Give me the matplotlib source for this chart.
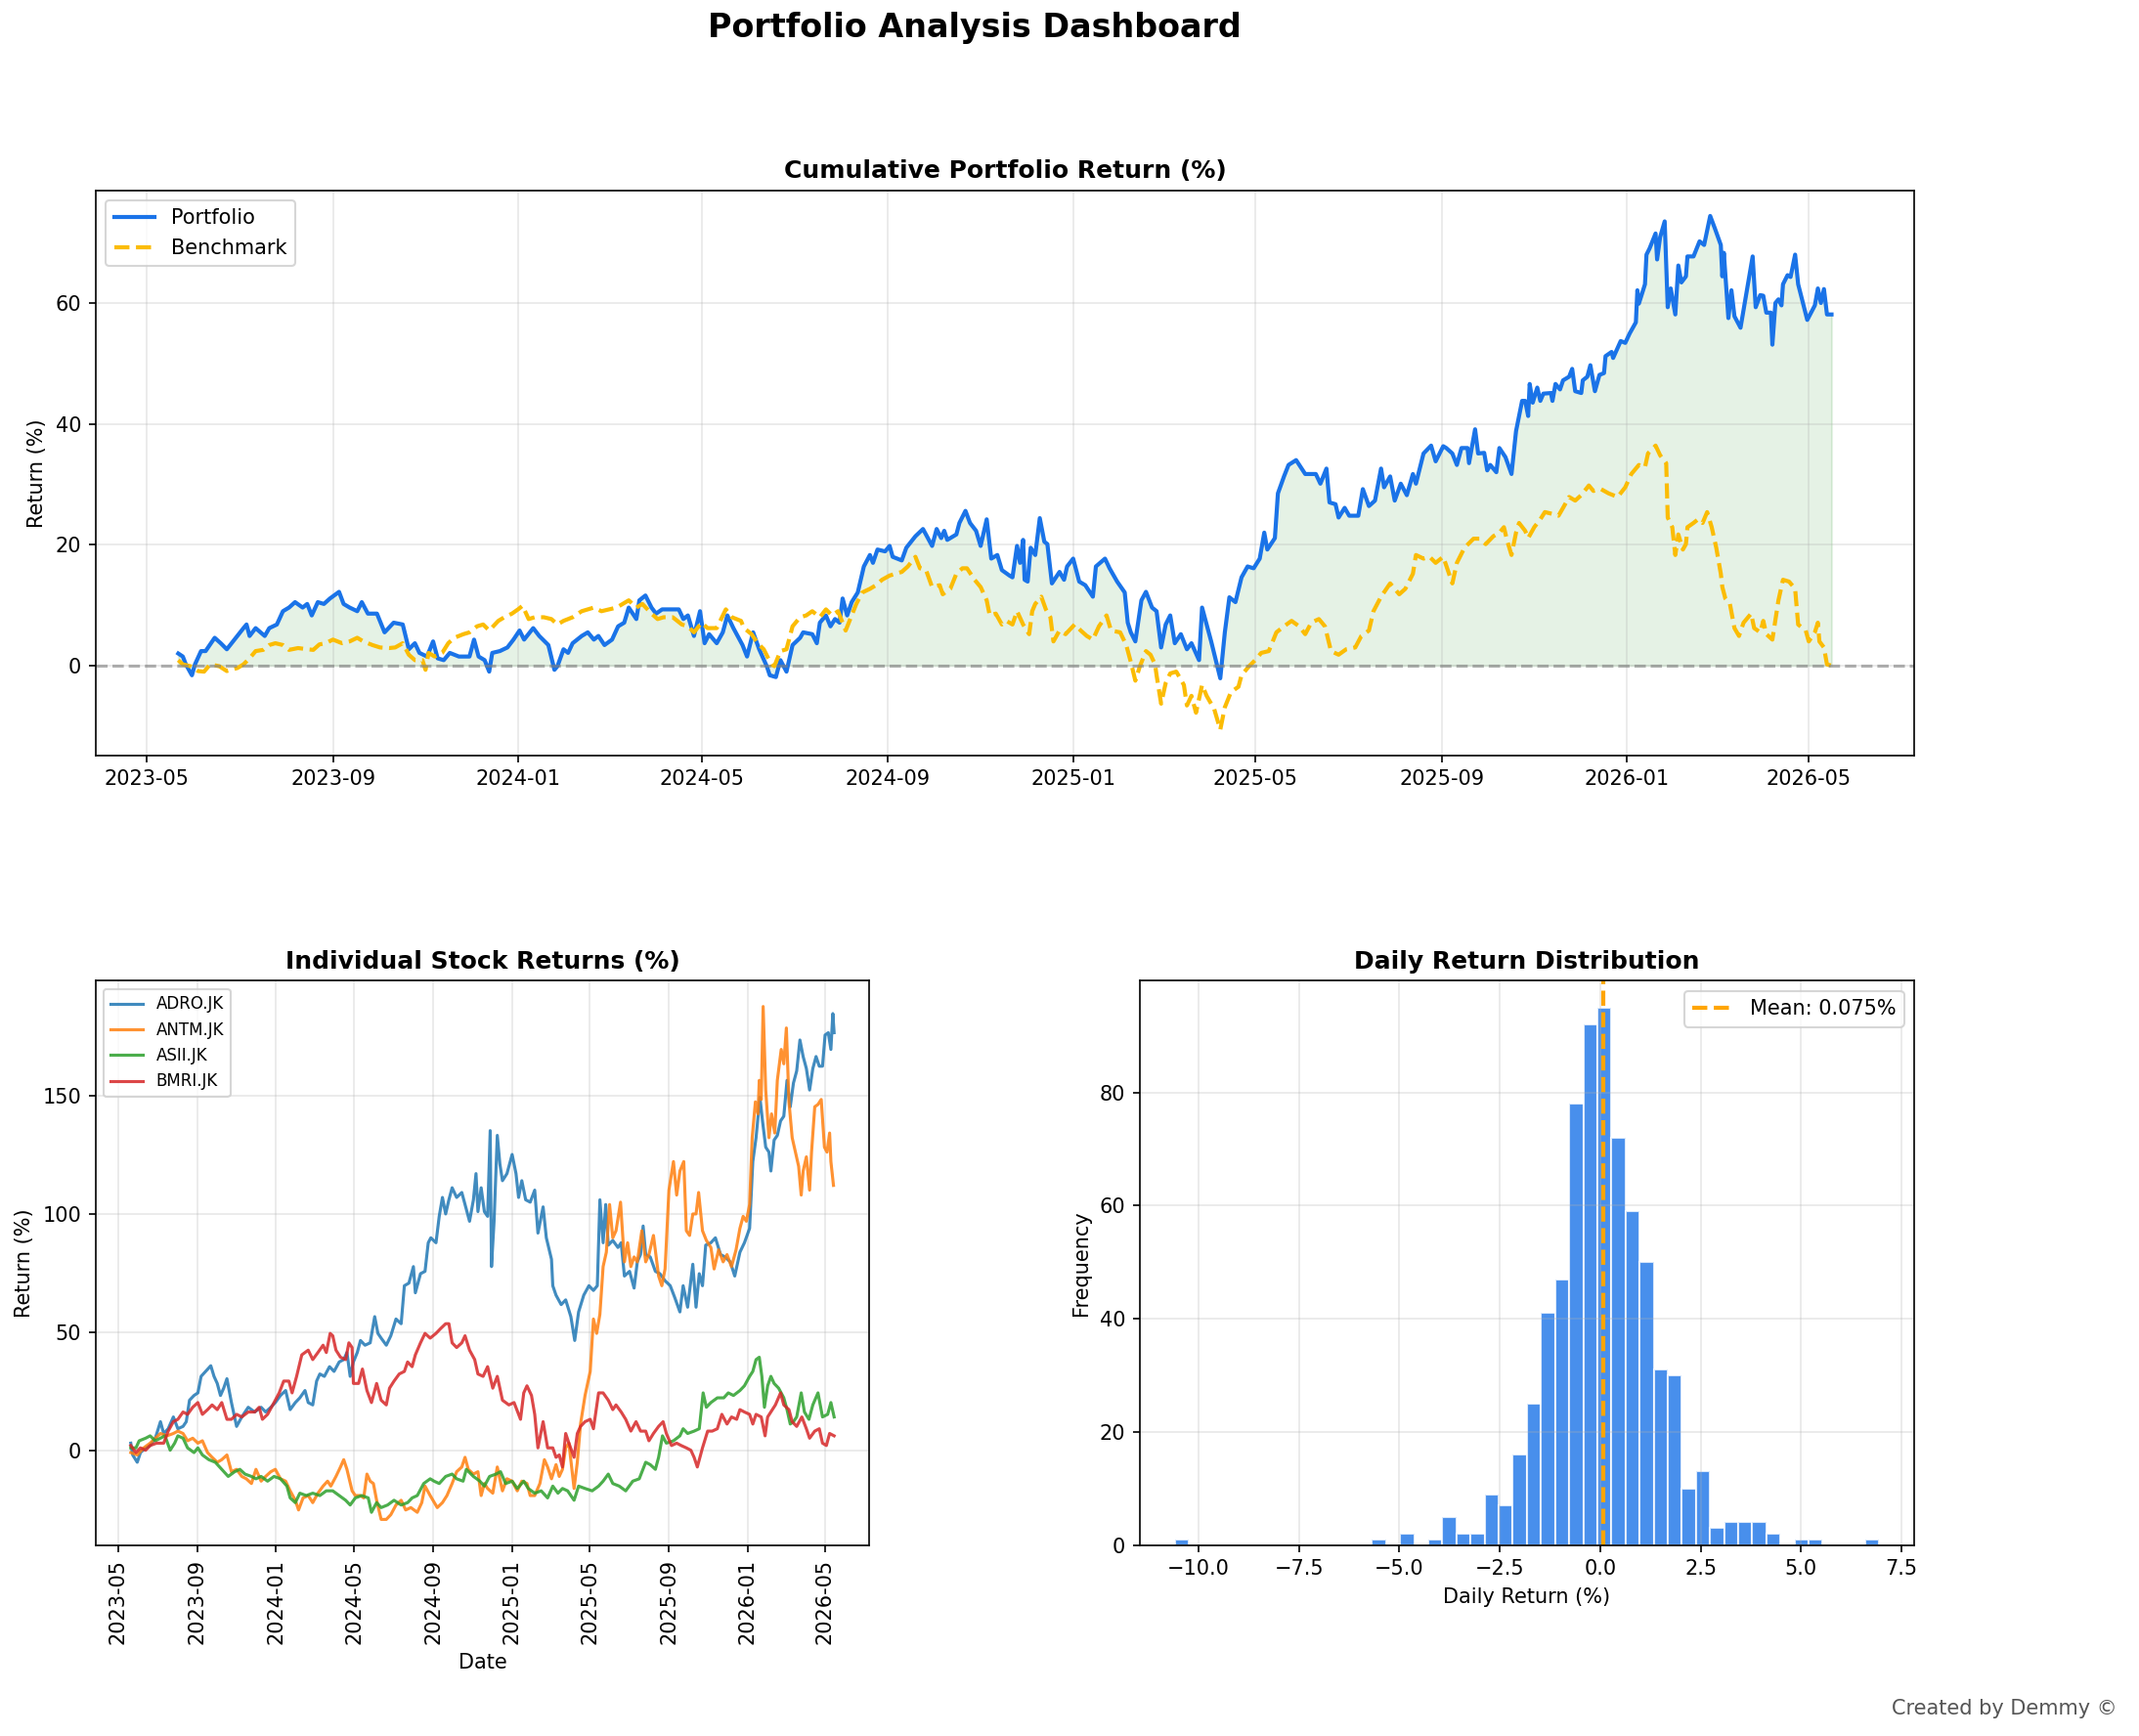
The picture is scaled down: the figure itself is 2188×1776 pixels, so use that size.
import numpy as np
import matplotlib
matplotlib.use('Agg')
import matplotlib.pyplot as plt
import matplotlib.dates as mdates

# day offsets are counted from this date
start_date = np.datetime64('2023-05-01')

# cumulative portfolio return (%)
port_day = [21, 24, 26, 30, 32, 36, 39, 45, 49, 53,
            58, 64, 66, 68, 72, 78, 81, 86, 90, 94,
            98, 103, 106, 109, 113, 117, 121, 127, 130, 134,
            139, 142, 146, 152, 157, 163, 169, 173, 177, 180,
            185, 189, 192, 196, 200, 206, 213, 216, 219, 223,
            226, 228, 233, 238, 242, 246, 249, 255, 259, 265,
            269, 271, 275, 278, 281, 287, 291, 295, 298, 302,
            307, 311, 315, 318, 323, 325, 329, 333, 336, 340,
            351, 354, 357, 361, 365, 368, 371, 376, 380, 383,
            387, 393, 396, 400, 404, 409, 411,
            415, 418, 422, 426, 431, 433, 439, 442, 444, 448,
            451, 454, 457, 459, 462, 465, 469, 473, 477, 479,
            482, 487, 490, 492, 498, 501, 507, 512, 518, 521,
            524, 526, 528, 534, 536, 540, 543, 547, 550, 554,
            557, 561, 564, 569, 571, 574, 576, 578, 579, 581,
            583, 586, 589, 592, 594, 597, 602, 605, 607, 611,
            615, 619, 624, 626, 632, 635, 640, 645, 647, 649,
            652, 656, 659, 663, 666, 669, 672, 675, 678, 682,
            686, 689, 694, 696, 702, 708, 711, 714, 718, 722,
            726, 730, 734, 737, 739, 744, 746, 750, 753, 758,
            764, 771, 774, 778, 780, 784, 786, 790, 793, 799,
            802, 806, 810, 814, 816, 820, 823, 827, 831, 835,
            837, 842, 847, 850, 855,
            857, 861, 864, 867, 871, 872, 876, 878, 882, 884,
            886, 890, 892, 896, 900, 903, 907, 909, 911, 912,
            914, 917, 919, 921, 926, 927, 929, 932, 934, 938,
            940, 942, 946, 947, 950, 952, 955, 958, 961, 962,
            966, 967, 972, 975, 978, 982, 983, 984, 988, 989,
            991, 995, 996, 998, 1001, 1003, 1005, 1008, 1010, 1012,
            1015, 1016, 1020, 1024, 1027, 1031, 1034, 1038, 1039, 1040,
            1043, 1045, 1047, 1051, 1059, 1061, 1064, 1066, 1068, 1071,
            1072, 1074, 1076, 1078, 1079, 1082, 1084, 1087, 1089, 1095,
            1100, 1102, 1104, 1106, 1108, 1111]
port_ret = [2.0, 1.5, 0.2, -1.6, 0.2, 2.4, 2.4, 4.6, 3.7, 2.7,
            4.3, 6.2, 6.8, 4.9, 6.2, 4.9, 6.2, 6.8, 9.0, 9.6,
            10.5, 9.6, 10.2, 8.3, 10.5, 10.2, 11.1, 12.2, 10.2, 9.6,
            9.0, 10.5, 8.6, 8.6, 5.5, 7.1, 6.8, 2.7, 3.7, 2.1,
            1.5, 4.0, 1.2, 0.9, 2.1, 1.5, 1.5, 4.3, 1.5, 0.9,
            -1.0, 2.1, 2.4, 3.0, 4.3, 5.8, 4.3, 6.2, 4.9, 3.4,
            -0.7, -0.1, 2.7, 2.1, 3.7, 4.9, 5.5, 4.3, 4.9, 3.4,
            4.3, 6.5, 7.1, 9.6, 7.7, 10.8, 11.6, 9.6, 8.6, 9.3,
            9.3, 7.7, 8.3, 4.9, 9.0, 3.7, 5.2, 3.7, 5.5, 8.3,
            6.2, 3.4, 1.5, 5.5, 2.7, -0.1, -1.6,
            -1.9, 0.9, -1.0, 3.4, 4.6, 5.5, 5.2, 3.7, 7.1, 8.3,
            6.5, 7.7, 7.1, 11.1, 8.3, 10.5, 12.1, 16.4, 18.3, 17.0,
            19.2, 18.9, 19.8, 18.0, 17.4, 19.5, 21.4, 22.6, 19.8, 22.6,
            21.1, 22.3, 20.8, 21.7, 23.6, 25.6, 23.6, 22.3, 19.8, 24.2,
            17.7, 18.3, 15.8, 14.9, 14.6, 19.8, 17.0, 20.8, 14.2, 13.9,
            19.5, 18.3, 24.4, 20.5, 20.1, 13.6, 15.5, 14.2, 16.4, 17.7,
            13.9, 13.3, 11.4, 16.4, 17.7, 16.1, 13.9, 12.1, 7.1, 5.5,
            4.0, 10.8, 12.2, 9.6, 9.0, 3.0, 6.8, 8.3, 3.7, 5.2,
            2.7, 3.7, 0.9, 9.6, 4.0, -2.1, 5.5, 11.3, 10.5, 14.6,
            16.4, 16.1, 17.7, 22.0, 19.2, 21.1, 28.5, 31.3, 33.2, 34.0,
            31.7, 31.7, 30.1, 32.6, 27.0, 26.7, 24.5, 26.1, 24.8, 24.8,
            29.2, 26.4, 27.3, 32.6, 29.5, 31.3, 27.3, 30.1, 28.2, 31.7,
            30.1, 35.1, 36.4, 33.8, 36.3,
            36.0, 35.1, 33.2, 36.0, 36.0, 33.5, 39.1, 35.1, 35.2, 32.3,
            33.2, 32.0, 36.0, 34.5, 31.7, 38.8, 43.8, 43.8, 41.3, 46.6,
            43.5, 46.0, 43.8, 45.0, 45.1, 43.8, 46.6, 45.7, 47.2, 47.8,
            49.1, 45.4, 45.1, 47.2, 47.8, 49.7, 45.4, 48.1, 48.4, 51.2,
            51.9, 50.9, 53.7, 53.4, 55.0, 56.8, 62.1, 59.9, 63.1, 68.0,
            69.0, 71.5, 67.2, 70.9, 73.5, 59.3, 62.4, 58.1, 66.2, 63.4,
            64.4, 67.7, 67.7, 70.2, 69.6, 74.4, 72.4, 69.6, 64.4, 68.3,
            57.5, 62.1, 57.8, 55.9, 67.7, 59.3, 61.3, 61.2, 58.4, 58.4,
            53.1, 60.0, 60.6, 59.6, 63.1, 64.6, 64.3, 68.0, 63.1, 57.2,
            59.6, 62.4, 60.0, 62.3, 58.1, 58.1]

# cumulative benchmark return (%)
bench_day = [21, 24, 29, 34, 38, 42, 48, 53, 60, 64,
             68, 72, 77, 81, 85, 90, 94, 100, 106, 110,
             114, 118, 123, 129, 134, 139, 143, 149, 154, 160,
             164, 169, 173, 177, 182, 184, 186, 190, 195, 199,
             203, 209, 213, 218, 222, 226, 232, 236, 241, 245,
             248, 252, 256, 262, 267, 271, 275, 281, 287, 291,
             295, 300, 305, 310, 314, 318, 323, 327, 333, 337,
             341, 347, 353, 357, 361, 366, 370, 376, 382, 386,
             392, 394, 399, 403, 407, 412,
             414, 418, 422, 426, 431, 435, 439, 444, 448, 452,
             456, 461, 464, 468, 472, 477, 481, 485, 490, 494,
             498, 502, 507, 510, 514, 518, 523, 525, 530, 534,
             538, 541, 546, 550, 554, 556, 560, 564, 567, 571,
             574, 578, 582, 584, 586, 590, 593, 596, 598, 602,
             606, 612, 616, 620, 624, 628, 633, 636, 642, 646,
             649, 652, 655, 659, 662, 665, 666, 669, 672, 675,
             679, 684, 686, 689, 692, 696, 699, 704, 708, 711,
             715, 720, 722, 727, 731, 735, 740, 745, 750, 755,
             760, 764, 768, 773, 777, 781, 786, 791, 797, 801,
             806, 809, 814, 820, 826, 830, 835, 837, 842, 846,
             850, 855,
             861, 864, 869, 875, 879, 883, 888, 892, 895, 897,
             900, 903, 905, 909, 911, 915, 919, 922, 927, 931,
             934, 938, 942, 946, 951, 954, 959, 964, 970, 975,
             979, 984, 988, 990, 995, 998, 1002, 1003, 1006, 1008,
             1010, 1013, 1015, 1016, 1020, 1023, 1026, 1029, 1032, 1035,
             1038, 1039, 1041, 1044, 1047, 1050, 1053, 1058, 1060, 1064,
             1066, 1068, 1072, 1076, 1079, 1083, 1087, 1089, 1094, 1096,
             1100, 1102, 1103, 1106, 1108, 1111]
bench_ret = [0.9, 0.2, -0.1, -0.9, -1.0, 0.2, -0.1, -0.9, -0.4, 0.2,
             1.2, 2.4, 2.6, 3.4, 3.7, 3.4, 2.6, 2.9, 2.7, 2.6,
             3.5, 3.7, 4.3, 3.7, 4.0, 4.6, 4.0, 3.4, 3.0, 2.9,
             3.0, 3.7, 1.8, 0.9, 0.9, -0.7, 2.1, 1.5, 2.1, 3.7,
             4.6, 5.2, 5.5, 6.5, 6.8, 5.8, 7.4, 8.0, 8.6, 9.3,
             9.9, 7.7, 8.0, 8.0, 7.7, 6.8, 7.4, 8.0, 9.0, 9.3,
             9.6, 9.0, 9.3, 9.6, 10.2, 10.8, 9.6, 10.2, 8.6, 7.7,
             8.0, 8.0, 6.8, 6.5, 5.5, 7.1, 6.2, 6.2, 9.3, 8.0,
             7.4, 6.2, 5.2, 3.7, 2.7, 0.2,
             -0.1, 2.4, 2.7, 6.5, 8.0, 8.3, 9.0, 8.0, 9.3, 8.3,
             9.0, 5.8, 7.7, 10.2, 12.1, 12.7, 13.3, 14.2, 14.9, 15.2,
             15.5, 16.4, 18.0, 16.1, 15.8, 13.0, 13.3, 11.8, 12.7, 15.2,
             16.1, 16.1, 14.2, 13.0, 10.8, 8.3, 8.6, 6.8, 7.4, 6.8,
             9.0, 6.8, 5.2, 9.0, 10.2, 11.4, 9.3, 8.0, 4.0, 5.8,
             5.2, 6.8, 5.8, 4.9, 4.3, 6.5, 8.3, 5.8, 5.5, 3.4,
             0.6, -2.5, -0.1, 2.4, 1.8, 0.2, -1.6, -6.3, -2.9, -1.3,
             -1.0, -3.2, -6.6, -5.0, -7.8, -3.2, -5.0, -7.2, -10.6, -6.9,
             -4.4, -3.5, -1.6, -0.1, 0.9, 2.1, 2.4, 5.5, 6.5, 7.4,
             6.5, 5.2, 7.1, 7.7, 6.5, 2.4, 1.8, 2.7, 3.0, 4.9,
             5.8, 9.0, 11.4, 13.6, 11.8, 12.7, 15.2, 18.3, 17.7, 18.0,
             17.0, 18.0,
             13.6, 17.0, 19.5, 21.0, 21.0, 20.1, 21.4, 22.0, 22.9, 20.8,
             18.3, 22.0, 23.6, 22.3, 21.1, 22.9, 24.2, 25.4, 25.1, 24.8,
             26.1, 27.9, 27.3, 28.2, 29.8, 28.9, 29.2, 28.5, 27.9, 29.5,
             31.7, 33.2, 32.8, 35.1, 36.4, 34.8, 33.5, 24.5, 22.9, 18.3,
             21.7, 19.2, 20.1, 22.9, 23.6, 24.2, 23.6, 25.4, 22.9, 19.5,
             15.2, 13.0, 11.1, 10.2, 6.2, 4.9, 7.1, 8.6, 6.2, 5.5,
             7.4, 5.2, 4.3, 10.8, 14.2, 13.9, 12.7, 6.8, 5.8, 4.0,
             5.5, 7.1, 4.0, 3.0, 0.2, 0.0]

# individual stock returns (%)
adro_day = [20, 23, 30, 35, 43, 50, 58, 66, 71, 78,
            86, 93, 101, 106, 111, 118, 124, 129, 136, 144,
            149, 154, 159, 164, 169, 176, 184, 192, 202, 212,
            222, 229, 237, 244, 252, 260, 267, 275, 282, 290,
            295, 302, 308, 313, 320, 328, 335, 343, 350, 355,
            360, 365, 371, 376, 383, 391, 398, 403, 408, 416,
            423, 431, 439, 444, 451, 458, 461, 469, 476, 481,
            485, 493, 498, 503, 508, 513, 518, 525, 533, 538,
            545, 551, 555, 558, 563, 568, 573, 577, 579, 583,
            588, 592, 596, 603, 611, 617, 621, 626, 632, 639,
            646, 651, 659, 664, 672, 674, 679, 687, 694, 702,
            708, 714, 722, 730, 737, 743, 747, 752, 756, 760,
            767, 775, 780, 785, 793, 800, 805, 810, 814, 818,
            825, 833, 840, 848, 856, 863, 871, 876, 883, 891,
            896, 901, 906, 911, 919, 926, 934, 941, 949, 956,
            964, 971, 979, 984, 989, 995, 999, 1004, 1009, 1012,
            1017, 1022, 1027, 1032, 1037, 1042, 1047, 1052, 1057, 1062,
            1067, 1072, 1077, 1082, 1087, 1092, 1096, 1101, 1105, 1108,
            1110]
adro_ret = [3.0, -2.0, -5.1, -1.0, 1.0, 2.0, 5.1, 12.1, 7.1, 9.1,
            14.1, 9.1, 10.1, 12.1, 21.2, 23.2, 24.3, 31.3, 33.4, 35.8,
            31.3, 28.3, 23.2, 26.3, 30.3, 20.2, 10.1, 14.1, 18.2, 16.2,
            18.2, 16.2, 18.2, 20.2, 23.2, 25.3, 17.2, 20.2, 22.2, 25.3,
            20.2, 19.2, 29.3, 32.3, 31.3, 35.4, 33.4, 37.4, 38.4, 41.4,
            31.3, 37.4, 41.4, 46.5, 44.5, 45.5, 56.6, 49.5, 47.5, 44.5,
            48.5, 55.6, 53.6, 69.7, 70.8, 77.8, 66.7, 74.8, 75.8, 87.9,
            90.0, 87.9, 99.1, 107.1, 100.1, 106.1, 111.2, 107.1, 109.2, 104.1,
            97.0, 106.1, 117.2, 101.1, 111.2, 101.1, 99.1, 135.4, 77.8, 97.0,
            133.4, 121.3, 114.2, 117.2, 125.3, 117.2, 107.1, 114.2, 106.1, 105.1,
            110.2, 92.0, 103.1, 90.0, 80.9, 69.7, 65.7, 61.7, 63.7, 56.6,
            46.5, 58.6, 65.7, 69.7, 67.7, 69.7, 106.1, 87.9, 104.1, 86.9,
            88.9, 85.9, 87.9, 73.8, 75.8, 68.7, 79.8, 82.9, 95.0, 82.9,
            81.9, 75.8, 74.8, 71.8, 69.7, 64.7, 58.6, 69.7, 60.6, 78.8,
            60.6, 74.8, 69.7, 86.9, 87.9, 90.0, 82.9, 81.9, 79.8, 73.8,
            83.9, 87.9, 94.0, 122.3, 132.4, 149.6, 139.5, 128.4, 126.3, 118.3,
            131.4, 133.4, 139.5, 141.5, 156.7, 145.5, 155.6, 160.7, 173.8, 166.8,
            161.7, 152.6, 161.7, 166.8, 162.7, 162.7, 175.9, 176.9, 169.8, 185.0,
            176.9]

antm_day = [20, 30, 40, 50, 66, 76, 86, 93, 101, 108,
            116, 124, 131, 139, 146, 154, 161, 169, 176, 184,
            192, 199, 207, 214, 222, 229, 237, 244, 252, 260,
            267, 275, 280, 287, 295, 302, 310, 318, 325, 330,
            338, 345, 350, 355, 363, 368, 376, 381, 386, 391,
            396, 401, 408, 416, 423, 431, 439, 446, 454, 464,
            471, 476, 484,
            495, 503, 510, 518, 525, 533, 538, 543, 551, 558,
            563, 568, 573, 581, 588, 596, 603, 611, 619, 626,
            634, 639, 646, 654, 661, 666, 672, 679, 684, 689,
            694, 699, 707, 712, 717, 724, 732, 737, 742, 747,
            752, 757, 762, 767, 772, 779, 785, 790, 795, 800,
            805, 812, 818, 823, 830, 838, 843, 848, 854, 861,
            866, 871, 877, 881, 886, 891, 896, 900, 906, 912,
            919, 924, 931, 938, 944, 951, 958, 964, 969, 974,
            979, 983, 988, 992, 994, 997, 1000, 1004, 1009, 1013,
            1018, 1022, 1028, 1032, 1036, 1040, 1045, 1050, 1055, 1059,
            1062, 1067, 1072, 1075, 1080, 1085, 1090, 1095, 1099, 1103,
            1105, 1109]
antm_ret = [-1.0, -2.0, 1.0, 3.0, 7.1, 6.1, 7.1, 8.1, 7.1, 4.0,
            5.1, 3.0, 4.0, -1.0, -3.0, -5.1, -4.0, -2.0, -9.1, -8.1,
            -11.1, -12.1, -14.1, -8.1, -13.1, -11.1, -9.1, -8.1, -12.1, -13.1,
            -17.2, -21.2, -25.3, -20.2, -19.2, -22.2, -18.2, -15.2, -13.1, -15.2,
            -11.1, -7.1, -4.0, -8.1, -17.2, -19.2, -19.2, -20.2, -10.1, -13.1,
            -14.1, -21.2, -29.3, -29.3, -27.3, -23.2, -21.2, -25.3, -24.3, -26.3,
            -22.2, -15.2, -19.2,
            -24.3, -22.2, -19.2, -14.1, -9.1, -7.1, -3.0, -8.1, -10.1, -9.1,
            -19.2, -14.1, -16.2, -18.2, -7.1, -17.2, -12.1, -13.1, -17.2, -13.1,
            -14.1, -19.2, -19.2, -14.1, -4.0, -7.1, -12.1, -6.1, -11.1, -8.1,
            1.0, 3.0, -16.2, -5.1, 11.1, 23.2, 33.4, 55.6, 49.5, 57.6,
            77.8, 83.9, 104.1, 90.0, 93.0, 105.1, 79.8, 87.9, 77.8, 81.9,
            79.8, 93.0, 79.8, 82.9, 91.0, 73.8, 69.7, 76.8, 110.2, 122.3,
            108.1, 118.3, 122.3, 93.0, 91.0, 100.1, 100.1, 109.2, 93.0, 88.9,
            85.9, 76.8, 84.9, 79.8, 82.9, 77.8, 84.9, 94.0, 99.1, 97.0,
            104.1, 132.4, 147.6, 142.5, 156.7, 148.6, 188.0, 152.6, 132.4, 142.5,
            134.4, 156.7, 169.8, 163.7, 178.9, 147.6, 132.4, 126.3, 120.3, 108.1,
            118.3, 124.3, 110.2, 126.3, 145.5, 146.5, 148.6, 128.4, 126.3, 134.4,
            122.3, 112.2]

asii_day = [20, 28, 33, 43, 50, 58, 66, 73, 81, 88,
            93, 101, 108, 118, 124, 131, 141, 151, 161, 171,
            181, 189, 197, 207, 214, 222, 232, 242, 252, 262,
            267, 275, 282, 292, 302, 313, 323, 333, 343, 353,
            360, 368, 378, 388, 393, 401, 408, 418, 428, 439,
            449, 456, 464, 474, 484,
            490, 498, 508, 518, 525, 535, 540, 551, 561, 568,
            576, 586, 593, 601, 611, 619, 629, 636, 646, 656,
            666, 674, 682, 689, 697, 707, 714, 724, 735, 745,
            752, 760, 767, 777, 787, 798, 808, 818, 825, 833,
            838, 844, 850, 861, 871, 876, 883, 893, 901, 907,
            912, 919, 929, 939, 946, 954, 964, 971, 979, 984,
            989, 994, 998, 1002, 1007, 1012, 1017, 1024, 1032, 1037,
            1042, 1047, 1052, 1059, 1064, 1071, 1077, 1085, 1092, 1100,
            1105, 1110]
asii_ret = [1.0, 1.0, 4.0, 5.1, 6.1, 4.0, 5.1, 6.1, 0.0, 3.0,
            6.1, 5.1, 1.0, -1.0, 1.0, -2.0, -4.0, -5.1, -8.1, -11.1,
            -9.1, -8.1, -10.1, -11.1, -12.1, -11.1, -13.1, -11.1, -12.1, -15.2,
            -20.2, -22.2, -18.2, -19.2, -18.2, -19.2, -17.2, -17.2, -19.2, -21.2,
            -23.2, -20.2, -19.2, -20.2, -26.3, -22.2, -24.3, -23.2, -21.2, -23.2,
            -22.2, -20.2, -19.2, -14.1, -12.1,
            -13.1, -14.1, -11.1, -10.1, -12.1, -13.1, -8.1, -11.1, -13.1, -15.2,
            -11.1, -10.1, -9.1, -14.1, -13.1, -16.2, -13.1, -16.2, -18.2, -17.2,
            -20.2, -15.2, -18.2, -16.2, -17.2, -21.2, -15.2, -16.2, -17.2, -15.2,
            -13.1, -10.1, -14.1, -15.2, -17.2, -13.1, -12.1, -5.1, -6.1, -8.1,
            -3.0, 6.1, 3.0, 4.0, 6.1, 9.1, 7.1, 8.1, 9.1, 24.3,
            18.2, 20.2, 22.2, 22.2, 24.3, 23.2, 25.3, 27.3, 31.3, 33.4,
            38.4, 39.4, 31.3, 18.2, 27.3, 31.3, 28.3, 26.3, 22.2, 17.2,
            11.1, 12.1, 14.1, 24.3, 16.2, 13.1, 19.2, 24.3, 14.1, 15.2,
            20.2, 14.1]

bmri_day = [20, 28, 35, 43, 50, 60, 71, 78, 86, 93,
            101, 108, 116, 124, 131, 139, 146, 154, 161, 169,
            176, 184, 192, 202, 212, 219, 224, 232, 242, 250,
            257, 265, 270, 277, 285, 295, 302, 310, 318, 323,
            329, 333, 338, 345, 353, 358, 363, 365, 373, 379,
            386, 393, 401, 408, 416, 421, 428, 436, 444, 449,
            456, 461, 469, 476, 484,
            493, 500, 508, 513, 518, 525, 533, 538, 545, 553,
            558, 566, 573, 581, 588, 596, 606, 614, 624, 629,
            634, 641, 646, 651, 659, 666, 674, 679, 684, 689,
            694, 699, 707, 712, 717, 724, 732, 737, 745, 752,
            760, 767, 772, 780, 787, 795, 803, 810, 818, 823,
            830, 838, 845, 850, 858, 866, 873, 881, 888, 893,
            898, 906, 914, 921, 929, 936, 944, 951, 959, 964,
            971, 979, 984, 989, 997, 1003, 1007, 1012, 1019, 1027,
            1032, 1040, 1045, 1052, 1060, 1067, 1072, 1080, 1087, 1092,
            1098, 1103, 1110]
bmri_ret = [2.0, -1.0, 1.0, 0.0, 2.0, 3.0, 3.0, 8.1, 12.1, 13.1,
            16.2, 15.2, 18.2, 20.2, 15.2, 17.2, 19.2, 17.2, 20.2, 13.1,
            13.1, 15.2, 14.1, 16.2, 16.2, 18.2, 13.1, 15.2, 20.2, 24.3,
            29.3, 29.3, 24.3, 31.3, 40.4, 42.4, 38.4, 41.4, 44.5, 41.4,
            49.5, 48.5, 42.4, 39.4, 38.4, 45.5, 43.5, 28.3, 28.3, 34.4,
            25.3, 20.2, 28.3, 21.2, 19.2, 26.3, 29.3, 32.3, 33.4, 37.4,
            35.4, 40.4, 45.5, 49.5, 47.5,
            49.5, 51.5, 53.6, 53.6, 45.5, 43.5, 45.5, 48.5, 42.4, 38.4,
            32.3, 31.3, 35.4, 26.3, 31.3, 21.2, 19.2, 20.2, 13.1, 24.3,
            27.3, 23.2, 15.2, 1.0, 12.1, 1.0, 1.0, -3.0, -2.0, -7.1,
            7.1, 3.0, -3.0, 7.1, 10.1, 12.1, 13.1, 9.1, 24.3, 24.3,
            21.2, 17.2, 19.2, 16.2, 13.1, 8.1, 12.1, 8.1, 8.1, 4.0,
            7.1, 10.1, 12.1, 7.1, 2.0, 3.0, 2.0, 1.0, 0.0, -3.0,
            -7.1, 1.0, 8.1, 8.1, 9.1, 15.2, 11.1, 14.1, 13.1, 17.2,
            16.2, 15.2, 11.1, 15.2, 14.1, 6.1, 14.1, 16.2, 19.2, 24.3,
            19.2, 17.2, 12.1, 10.1, 14.1, 9.1, 5.1, 8.1, 9.1, 3.0,
            2.0, 7.1, 6.1]

stock_names = ['ADRO.JK', 'ANTM.JK', 'ASII.JK', 'BMRI.JK']

# daily return histogram: 50 equal bins between the min and max daily return
hist_lo = -10.59
hist_hi = 6.94
hist_counts = [1, 0, 0, 0, 0, 0, 0, 0, 0, 0,
               0, 0, 0, 0, 1, 0, 2, 0, 1, 5,
               2, 2, 9, 7, 16, 25, 41, 47, 78, 92,
               95, 72, 59, 50, 31, 30, 10, 13, 3, 4,
               4, 4, 2, 0, 1, 1, 0, 0, 0, 1]
mean_ret = 0.075


def to_dates(days):
    return start_date + np.array(days).astype('timedelta64[D]')


def setup_date_axis(ax):
    ax.xaxis.set_major_locator(mdates.MonthLocator(bymonth=[1, 5, 9]))
    ax.xaxis.set_major_formatter(mdates.DateFormatter('%Y-%m'))


fig = plt.figure(figsize=(2188 / 150, 1776 / 150), dpi=150)
ax_top = fig.add_axes([0.0447, 0.5649, 0.8502, 0.3255])
ax_stock = fig.add_axes([0.0447, 0.1100, 0.3617, 0.3250])
ax_hist = fig.add_axes([0.5328, 0.1100, 0.3621, 0.3250])

# Cumulative portfolio vs benchmark
port_dates = to_dates(port_day)
ax_top.fill_between(port_dates, port_ret, 0, color='green', alpha=0.1)
ax_top.plot(port_dates, port_ret, color='#1a73e8', linewidth=2, label='Portfolio')
ax_top.plot(to_dates(bench_day), bench_ret, color='#fbbc04', linewidth=2,
            linestyle='--', label='Benchmark')
ax_top.axhline(0, color='gray', linestyle='--', linewidth=1.5, alpha=0.6)
ax_top.set_title('Cumulative Portfolio Return (%)', fontsize=12, fontweight='bold')
ax_top.set_ylabel('Return (%)')
ax_top.set_yticks([0, 20, 40, 60])
setup_date_axis(ax_top)
ax_top.legend(loc='upper left')
ax_top.grid(True, alpha=0.3)

# Individual stocks
stock_days = [adro_day, antm_day, asii_day, bmri_day]
stock_rets = [adro_ret, antm_ret, asii_ret, bmri_ret]
stock_colors = ['tab:blue', 'tab:orange', 'tab:green', 'tab:red']
for name, days, rets, col in zip(stock_names, stock_days, stock_rets, stock_colors):
    ax_stock.plot(to_dates(days), rets, color=col, linewidth=1.5, alpha=0.85, label=name)
ax_stock.set_title('Individual Stock Returns (%)', fontsize=12, fontweight='bold')
ax_stock.set_xlabel('Date')
ax_stock.set_ylabel('Return (%)')
ax_stock.set_yticks([0, 50, 100, 150])
setup_date_axis(ax_stock)
ax_stock.tick_params(axis='x', rotation=90)
ax_stock.legend(loc='upper left', fontsize=8)
ax_stock.grid(True, alpha=0.3)

# Daily return distribution
edges = np.linspace(hist_lo, hist_hi, len(hist_counts) + 1)
centers = (edges[:-1] + edges[1:]) / 2
ax_hist.hist(centers, bins=edges, weights=hist_counts, color='#1a73e8',
             alpha=0.8, edgecolor='white')
ax_hist.axvline(mean_ret, color='orange', linestyle='--', linewidth=2,
                label=f'Mean: {mean_ret:.3f}%')
ax_hist.set_title('Daily Return Distribution', fontsize=12, fontweight='bold')
ax_hist.set_xlabel('Daily Return (%)')
ax_hist.set_ylabel('Frequency')
ax_hist.legend(loc='upper right')
ax_hist.grid(True, alpha=0.3)

fig.text(0.4557, 0.984, 'Portfolio Analysis Dashboard', ha='center', va='center',
         fontsize=16, fontweight='bold')
fig.text(0.99, 0.01, 'Created by Demmy \u00a9', ha='right', va='bottom',
         fontsize=10, color='#555555')

fig.savefig('out.png', dpi=150)
